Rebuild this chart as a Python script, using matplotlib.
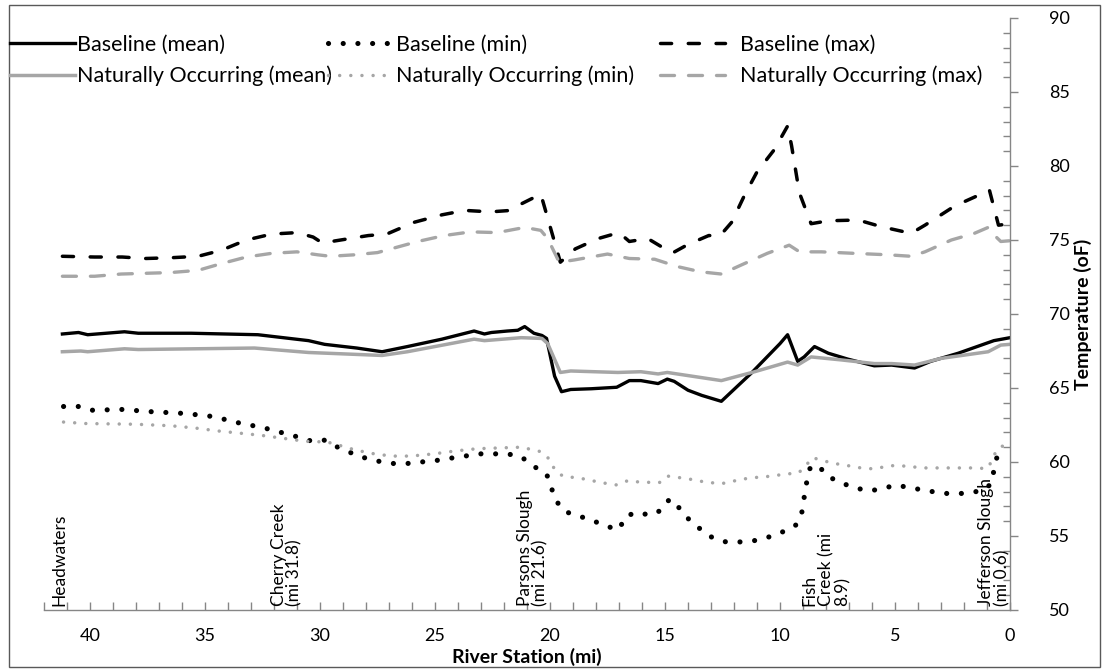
import matplotlib
matplotlib.use("Agg")
from matplotlib import pyplot as plt
from matplotlib.patches import Rectangle

plt.rcParams['font.family'] = ['Lato', 'DejaVu Sans']

# River station (mi) and temperature (oF)
bmean_mi = [41.2, 40.5, 40.1, 38.5, 37.9, 35.6, 32.7, 30.5, 29.8, 28.4, 27.3,
            26.2, 24.7, 23.3, 22.85, 22.55, 21.85, 21.4, 21.1, 20.7, 20.35,
            20.15, 19.8, 19.5, 19.1, 18.2, 17.1, 16.55, 16.05, 15.3, 14.9,
            14.6, 14.0, 13.4, 12.55, 11.25, 10.0, 9.67, 9.23, 8.95, 8.5, 7.9,
            7.05, 5.9, 5.15, 4.15, 3.45, 2.25, 0.7, 0.0]
bmean_t = [68.65, 68.75, 68.6, 68.8, 68.7, 68.7, 68.6, 68.2, 67.95, 67.7, 67.45,
           67.8, 68.3, 68.85, 68.65, 68.75, 68.85, 68.9, 69.15, 68.7, 68.55,
           68.35, 65.8, 64.75, 64.9, 64.95, 65.05, 65.5, 65.5, 65.3, 65.6,
           65.45, 64.85, 64.5, 64.1, 66.0, 68.0, 68.6, 66.8, 67.1, 67.8, 67.35,
           66.95, 66.5, 66.55, 66.35, 66.8, 67.35, 68.2, 68.4]

nmean_mi = [41.2, 40.4, 40.1, 38.5, 37.9, 32.85, 30.5, 27.3, 26.2, 23.3, 22.85,
            21.25, 20.35, 20.1, 19.55, 19.1, 17.05, 16.05, 15.3, 14.9, 12.55,
            11.1, 9.67, 9.23, 8.65, 7.35, 5.9, 5.15, 4.15, 3.0, 0.95, 0.4, 0.0]
nmean_t = [67.45, 67.5, 67.45, 67.65, 67.6, 67.7, 67.4, 67.2, 67.45, 68.3, 68.2,
           68.4, 68.35, 68.0, 66.05, 66.15, 66.05, 66.1, 65.95, 66.05, 65.5,
           66.1, 66.75, 66.55, 67.1, 66.9, 66.65, 66.65, 66.55, 67.0, 67.45,
           67.9, 67.95]

bmin_mi = [41.15, 40.5, 39.9, 38.6, 37.35, 36.1, 35.4, 34.8, 34.2, 33.55, 32.9,
           32.3, 31.7, 31.1, 30.45, 29.85, 29.3, 28.7, 28.1, 27.45, 26.85,
           26.2, 25.6, 24.95, 24.35, 23.7, 23.05, 21.85, 21.25, 20.7, 20.15,
           19.95, 19.75, 19.35, 18.75, 18.15, 17.55, 17.0, 16.7, 16.2, 15.65,
           15.15, 14.8, 14.35, 13.95, 13.45, 12.95, 12.35, 11.7, 11.05, 10.45,
           9.85, 9.3, 9.05, 8.95, 8.85, 8.7, 8.35, 7.95, 7.35, 6.75, 6.1, 5.55,
           4.95, 4.35, 3.7, 3.05, 2.45, 1.8, 1.15, 0.8, 0.7, 0.55, 0.15]
bmin_t = [63.75, 63.75, 63.5, 63.55, 63.4, 63.3, 63.2, 63.1, 62.9, 62.65, 62.45,
          62.25, 62.0, 61.75, 61.45, 61.5, 61.05, 60.65, 60.3, 60.05, 59.9,
          59.9, 60.0, 60.1, 60.25, 60.4, 60.55, 60.55, 60.35, 59.7, 59.2,
          58.3, 57.4, 56.65, 56.35, 56.05, 55.65, 55.45, 56.35, 56.6, 56.4,
          56.75, 57.5, 56.85, 56.1, 55.45, 54.9, 54.6, 54.6, 54.7, 54.95,
          55.3, 55.75, 56.6, 57.6, 58.55, 59.55, 59.8, 59.05, 58.6, 58.25,
          58.05, 58.2, 58.45, 58.25, 58.1, 57.9, 57.85, 57.9, 58.1, 58.55,
          59.45, 60.45, 60.8]

nmin_mi = [41.15, 40.2, 38.0, 36.5, 35.45, 34.45, 33.5, 32.55, 31.6, 30.65,
           29.7, 29.3, 28.8, 27.85, 26.9, 26.05, 25.05, 24.1, 23.15, 22.2,
           21.25, 20.4, 20.03, 19.8, 19.45, 18.95, 18.5, 18.05, 17.55, 17.1,
           16.6, 16.15, 15.25, 14.9, 14.4, 13.95, 13.45, 13.0, 12.5, 12.05,
           11.6, 11.1, 10.65, 10.15, 9.65, 9.2, 8.85, 8.6, 8.15, 7.65, 7.2,
           6.7, 6.25, 5.8, 5.3, 4.85, 4.35, 3.85, 1.5, 1.0, 0.75, 0.6, 0.2]
nmin_t = [62.7, 62.6, 62.55, 62.45, 62.3, 62.1, 61.95, 61.8, 61.6, 61.4,
          61.35, 61.2, 60.95, 60.6, 60.4, 60.4, 60.55, 60.75, 60.9, 60.95,
          61.0, 60.7, 60.2, 59.5, 59.05, 58.95, 58.85, 58.7, 58.55, 58.45,
          58.75, 58.65, 58.6, 59.05, 58.95, 58.85, 58.7, 58.6, 58.55, 58.7,
          58.85, 58.95, 59.0, 59.1, 59.2, 59.25, 59.8, 60.3, 60.1, 59.9, 59.8,
          59.65, 59.55, 59.55, 59.75, 59.75, 59.7, 59.6, 59.6, 59.55, 60.15,
          60.8, 61.2]

bmax_mi = [41.2, 39.8, 38.6, 37.6, 36.5, 35.3, 34.3, 33.2, 32.1, 31.0, 30.3,
           29.9, 29.1, 27.9, 27.1, 25.9, 24.7, 23.7, 22.6, 21.7, 21.3, 20.4,
           19.55, 18.9, 17.9, 17.0, 16.55, 15.75, 15.0, 14.7, 14.0, 13.1, 12.6,
           12.1, 11.55, 11.0, 10.25, 9.67, 9.5, 9.16, 8.65, 7.9, 6.6, 5.6, 4.3,
           3.7, 2.4, 1.4, 0.9, 0.5, 0.0]
bmax_t = [73.9, 73.85, 73.85, 73.75, 73.8, 73.9, 74.3, 75.0, 75.4, 75.5, 75.2,
          74.8, 75.0, 75.3, 75.4, 76.2, 76.7, 77.0, 76.9, 77.0, 77.4, 78.1,
          73.5, 74.4, 75.1, 75.5, 74.9, 75.1, 74.4, 74.1, 74.7, 75.3, 75.3,
          76.2, 78.0, 79.6, 81.1, 82.7, 81.4, 78.2, 76.1, 76.3, 76.35, 75.9,
          75.45, 76.0, 77.3, 78.0, 78.4, 76.0, 76.1]

nmax_mi = [41.2, 39.8, 38.65, 37.6, 36.5, 35.3, 34.3, 33.2, 32.1, 31.0, 30.1,
           29.55, 28.5, 27.5, 26.8, 25.75, 24.6, 23.45, 22.3, 21.1, 20.4, 20.1,
           19.6, 18.95, 17.5, 16.55, 15.45, 14.45, 13.45, 12.55, 11.7, 10.55,
           9.6, 9.15, 8.2, 6.8, 5.3, 4.3, 3.7, 2.55, 1.55, 0.95, 0.6, 0.4, 0.0]
nmax_t = [72.55, 72.55, 72.7, 72.75, 72.8, 72.95, 73.4, 73.85, 74.1, 74.2, 74.0,
          73.9, 74.0, 74.15, 74.45, 74.9, 75.3, 75.55, 75.5, 75.85, 75.65, 75.1,
          73.5, 73.65, 74.05, 73.75, 73.7, 73.2, 72.85, 72.7, 73.3, 74.1,
          74.65, 74.2, 74.2, 74.1, 74.0, 73.9, 74.2, 75.0, 75.45, 75.85, 75.2,
          74.9, 74.95]

# tributary / landmark labels along the bottom of the plot
site_labels = ["Headwaters", "Cherry Creek\n(mi 31.8)", "Parsons Slough\n(mi 21.6)",
               "Fish\nCreek (mi\n8.9)", "Jefferson Slough\n(mi 0.6)"]
site_mi = [41.35, 31.45, 20.75, 8.0, 0.7]

BLACK = "#000000"
GRAY = "#A6A6A6"

fig = plt.figure(figsize=(11.03, 6.69), dpi=100)
ax = fig.add_axes([44 / 1103, 1 - 610 / 669, 966 / 1103, 592 / 669])

l1, = ax.plot(bmean_mi, bmean_t, color=BLACK, lw=2.4, label="Baseline (mean)")
l2, = ax.plot(nmean_mi, nmean_t, color=GRAY, lw=2.5, label="Naturally Occurring (mean)")
l3, = ax.plot(bmin_mi, bmin_t, color=BLACK, lw=3.7, ls=(0, (0.01, 2.85)),
              dash_capstyle="round", label="Baseline (min)")
l4, = ax.plot(nmin_mi, nmin_t, color=GRAY, lw=2.5, ls=(0, (0.01, 3.2)),
              dash_capstyle="round", label="Naturally Occurring (min)")
l5, = ax.plot(bmax_mi, bmax_t, color=BLACK, lw=2.5, ls=(0, (3.2, 4.8)),
              dash_capstyle="round", label="Baseline (max)")
l6, = ax.plot(nmax_mi, nmax_t, color=GRAY, lw=2.4, ls=(0, (4.2, 4.2)),
              dash_capstyle="round", label="Naturally Occurring (max)")

ax.set_xlim(42, 0)
ax.set_ylim(50, 90)

for lab, m in zip(site_labels, site_mi):
    ax.text(m, 50.25, lab, rotation=90, ha="center", va="bottom",
            multialignment="left", fontsize=12.5, linespacing=1.0)

# axes styling (Excel-like)
for side in ["left", "top"]:
    ax.spines[side].set_visible(False)
for side in ["right", "bottom"]:
    ax.spines[side].set_color("#868686")
    ax.spines[side].set_linewidth(1.0)

ax.yaxis.tick_right()
ax.yaxis.set_label_position("right")
ax.set_yticks(range(50, 91, 5))
ax.set_yticks(range(50, 91, 1), minor=True)
ax.tick_params(axis="y", which="major", direction="out", length=6, width=1,
               color="#868686", labelsize=13, pad=22)
ax.tick_params(axis="y", which="minor", direction="in", length=5, width=1,
               color="#868686")
ax.set_xticks(range(0, 41, 5))
ax.set_xticks(range(0, 43, 1), minor=True)
ax.tick_params(axis="x", which="both", direction="in", length=6, width=1,
               color="#868686", labelsize=13, pad=13)

ax.set_xlabel("River Station (mi)", fontsize=14, fontweight="bold", labelpad=3)
ax.set_ylabel("Temperature (oF)", fontsize=14, fontweight="bold", labelpad=3)

# three legend columns, each placed like the Excel legend entries
cols = [([l1, l2], 10, 0.1), ([l3, l4], 328, 0.15), ([l5, l6], 660, 0.7)]
for handles, x0, tpad in cols:
    lg = fig.legend(handles=handles, loc="upper left",
                    bbox_to_anchor=(x0 / 1103, 1 - 35 / 669), frameon=False,
                    fontsize=15.5, handlelength=3.0, handletextpad=tpad,
                    borderpad=0, borderaxespad=0, labelspacing=0.5)

# outer chart border
fig.patches.append(Rectangle((9 / 1103, 2 / 669), 1091 / 1103, 662 / 669,
                             transform=fig.transFigure, fill=False,
                             edgecolor="#595959", lw=1.0))

fig.savefig("out.png", dpi=100)
